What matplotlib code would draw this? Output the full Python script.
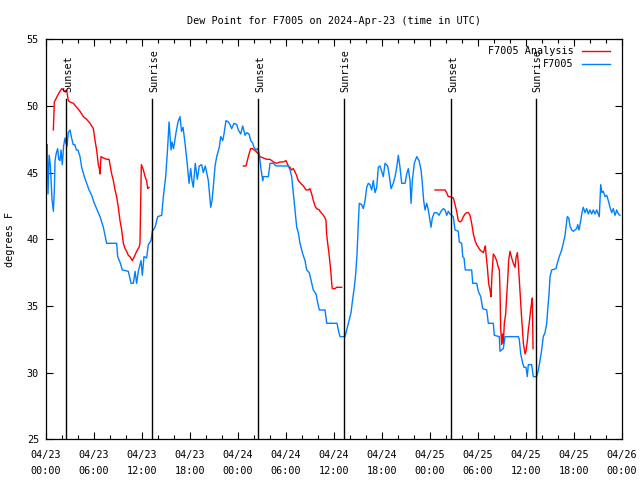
from datetime import datetime, timedelta

import matplotlib
matplotlib.use("Agg")
import matplotlib.pyplot as plt
import matplotlib.dates as mdates

start = datetime(2024, 4, 23)

# F7005 observations: hours since 2024-04-23 00:00 UTC, dew point (F)
obs_hours = [
    0.05, 0.15, 0.25, 0.4, 0.55, 0.75, 0.92, 1.05, 1.13, 1.3, 1.46, 1.6, 1.75, 1.88,
    2.04, 2.2, 2.38, 2.5, 2.63, 2.79, 3.0, 3.2, 3.4, 3.6, 3.8, 4.0, 4.25, 4.46, 4.79,
    5.08, 5.38, 5.71, 6.04, 6.33, 6.75, 7.17, 7.58, 8.0, 8.83, 8.96, 9.3, 9.54, 10.29,
    10.63, 10.92, 11.13, 11.33, 11.54, 11.88, 12.04, 12.25, 12.58, 12.79, 13.13, 13.29,
    13.63, 13.96, 14.46, 14.67, 14.96, 15.21, 15.38, 15.63, 15.75, 15.94, 16.13, 16.25,
    16.5, 16.75, 16.94, 17.13, 17.38, 17.63, 17.88, 18.09, 18.25, 18.41, 18.66, 18.91,
    19.16, 19.46, 19.66, 19.91, 20.09, 20.29, 20.41, 20.59, 20.75, 20.91, 21.13, 21.34,
    21.66, 21.84, 22.09, 22.25, 22.5, 22.79, 23.0, 23.21, 23.5, 23.84, 24.04, 24.34,
    24.59, 24.88, 25.09, 25.38, 25.59, 25.84, 26.0, 26.25, 26.46, 26.66, 26.84, 27.09,
    27.16, 27.79, 28.0, 28.41, 28.75, 29.25, 29.88, 30.29, 30.5, 30.71, 30.91, 31.13,
    31.34, 31.54, 31.75, 32.09, 32.38, 32.59, 32.91, 33.21, 33.41, 33.75, 33.91, 34.16,
    34.88, 35.09, 36.38, 36.54, 36.75, 37.38, 37.59, 37.79, 38.13, 38.29, 38.54, 38.71,
    38.88, 39.04, 39.16, 39.46, 39.66, 39.88, 40.09, 40.29, 40.5, 40.71, 40.91, 41.13,
    41.34, 41.54, 41.75, 41.96, 42.16, 42.38, 42.71, 42.88, 43.13, 43.41, 43.63, 43.84,
    44.04, 44.25, 44.46, 44.88, 45.09, 45.29, 45.5, 45.63, 45.79, 46.04, 46.34, 46.63,
    46.88, 47.04, 47.21, 47.38, 47.59, 47.79, 48.0, 48.13, 48.29, 48.54, 48.84, 49.13,
    49.38, 49.66, 49.88, 50.09, 50.29, 50.5, 50.71, 50.91, 51.13, 51.54, 51.66, 51.96,
    52.09, 52.25, 52.41, 53.21, 53.34, 53.84, 54.04, 54.34, 54.59, 55.09, 55.29, 55.91,
    56.04, 56.66, 56.75, 56.96, 57.16, 57.38, 59.04, 59.16, 59.34, 59.59, 59.75, 60.0,
    60.16, 60.29, 60.71, 60.91, 61.34, 61.54, 61.75, 61.96, 62.16, 62.38, 62.59, 62.71,
    62.88, 63.0, 63.21, 63.75, 63.91, 64.16, 64.46, 64.66, 64.88, 65.0, 65.16, 65.34,
    65.5, 65.71, 65.91, 66.13, 66.34, 66.46, 66.63, 66.84, 67.0, 67.16, 67.38, 67.59,
    67.79, 68.0, 68.21, 68.41, 68.63, 68.84, 69.04, 69.16, 69.34, 69.5, 69.66, 69.88,
    70.09, 70.29, 70.5, 70.71, 70.91, 71.13, 71.34, 71.54, 71.75,
]
obs_dewpt = [
    44.5, 47.1, 43.4, 46.3, 45.5, 43.0, 42.1, 43.8, 45.9, 46.5, 46.8, 46.0, 45.9, 46.7,
    45.6, 47.0, 47.6, 47.2, 47.0, 48.0, 48.2, 47.6, 47.1, 47.1, 46.7, 46.7, 46.2, 45.4, 44.7,
    44.2, 43.7, 43.3, 42.7, 42.3, 41.7, 40.9, 39.7, 39.7, 39.7, 38.7, 38.2, 37.7, 37.6,
    36.7, 36.7, 37.6, 36.7, 37.6, 38.4, 37.3, 38.7, 38.6, 39.6, 39.9, 40.6,
    40.9, 41.7, 41.8, 43.2, 44.7, 46.9, 48.8, 46.7, 47.3, 46.8, 47.5, 48.0,
    48.8, 49.2, 48.1, 48.4, 47.2, 45.8, 44.2, 45.3, 44.4, 43.9, 45.7, 44.5,
    45.5, 45.6, 45.0, 45.5, 45.0, 44.4, 43.6, 42.4, 42.9, 43.9, 45.5, 46.2,
    46.9, 47.7, 47.4, 47.9, 48.9, 48.8, 48.6, 48.3, 48.7, 48.6, 48.2, 47.9,
    48.5, 47.8, 48.0, 47.9, 47.4, 47.2, 46.9, 46.7, 46.8, 46.4, 45.4, 44.4,
    44.7, 44.7, 45.7, 45.7, 45.5, 45.5, 45.5, 45.5, 45.2, 44.7, 43.5, 42.2,
    40.9, 40.5, 39.7, 38.9, 38.4, 37.7, 37.5, 36.7, 36.2, 35.9, 35.4, 34.7,
    34.7, 33.7, 33.7, 33.2, 32.7, 32.7, 33.2, 33.7, 34.5, 35.3, 36.4, 37.4,
    38.9, 41.2, 42.7, 42.6, 42.3, 42.9, 43.9, 44.2, 44.1, 43.7, 44.4, 43.5,
    43.9, 45.4, 45.5, 45.1, 44.7, 45.7, 45.5, 44.9, 43.8, 44.2, 44.7, 45.4,
    46.3, 45.4, 44.2, 44.2, 44.9, 45.3, 44.4, 42.7, 44.4, 45.7, 46.2, 45.9,
    45.2, 44.2, 42.9, 42.2, 42.7, 42.2, 41.4, 40.9, 41.6, 42.0, 42.0, 41.8,
    42.1, 42.3, 42.2, 41.8, 42.1, 41.9, 41.8, 41.7, 40.7, 40.6, 39.8, 39.7,
    38.7, 38.6, 37.7, 37.7, 36.7, 36.7, 36.1, 35.7, 34.8, 34.7, 33.7, 33.7,
    32.8, 32.7, 31.6, 31.7, 31.8, 32.7, 32.7, 32.5, 31.4, 30.7, 30.4, 30.4,
    29.7, 30.6, 30.6, 29.7, 29.7, 30.2, 30.9, 31.7, 32.7, 33.0, 33.7, 34.7,
    35.9, 37.2, 37.7, 37.8, 38.2, 38.7, 39.2, 39.7, 40.3, 40.9, 41.7, 41.6,
    41.0, 40.7, 40.6, 40.7, 40.8, 41.1, 40.7, 41.4, 42.0, 42.4, 42.0, 42.3,
    41.9, 42.2, 41.9, 42.2, 41.9, 42.2, 41.9, 41.7, 44.1, 43.5, 43.6, 43.2,
    43.3, 42.9, 42.4, 42.0, 42.3, 41.8, 42.2, 41.9, 41.8,
]

# F7005 Analysis, three separate runs
ana1_hours = [
    0.92, 1.04, 1.21, 1.46, 1.75, 1.96, 2.17, 2.38, 2.58, 2.79, 3.0, 3.42, 3.83, 4.25,
    4.67, 5.08, 5.5, 5.92, 6.13, 6.33, 6.54, 6.67, 6.75, 6.88, 7.17, 7.58, 7.88, 8.0,
    8.21, 8.42, 8.63, 8.83, 9.04, 9.25, 9.46, 9.67, 9.88, 10.08, 10.29, 10.5, 10.79,
    11.04, 11.33, 11.63, 11.75, 11.83, 11.92, 12.17, 12.38, 12.58, 12.71, 12.88,
]
ana1_dewpt = [
    48.2, 50.3, 50.5, 50.8, 51.1, 51.3, 51.2, 51.1, 51.2, 50.4, 50.3, 50.2, 49.9, 49.6,
    49.2, 49.0, 48.7, 48.3, 47.4, 46.7, 45.6, 45.3, 44.9, 46.2, 46.1, 46.0, 46.0, 45.6,
    44.9, 44.4, 43.7, 43.2, 42.4, 41.4, 40.7, 39.7, 39.3, 39.1, 38.8, 38.7, 38.4,
    38.7, 39.1, 39.4, 39.7, 42.7, 45.6, 45.2, 44.7, 44.4, 43.8, 43.9,
]
ana2_hours = [
    24.67, 25.0, 25.29, 25.58, 25.83, 26.0, 26.25, 26.54, 26.75, 27.17, 27.58, 28.0,
    28.42, 28.83, 29.25, 29.67, 30.0, 30.29, 30.5, 30.71, 30.92, 31.25, 31.54, 31.83,
    32.17, 32.5, 32.79, 33.0, 33.21, 33.42, 33.63, 33.83, 34.17, 34.25, 34.67, 34.88,
    35.0, 35.08, 35.21, 35.38, 35.5, 35.63, 35.71, 35.79, 36.13, 36.33, 36.96,
]
ana2_dewpt = [
    45.5, 45.5, 46.2, 46.8, 46.8, 46.7, 46.6, 46.4, 46.2, 46.1, 46.0, 46.0,
    45.8, 45.7, 45.8, 45.8, 45.9, 45.5, 45.4, 45.2, 45.3, 44.9, 44.4, 44.2,
    44.0, 43.7, 43.7, 43.8, 43.4, 42.9, 42.5, 42.3, 42.2, 42.1, 41.8, 41.6,
    41.4, 40.4, 39.7, 38.9, 38.2, 37.4, 36.7, 36.3, 36.3, 36.4, 36.4,
]
ana3_hours = [
    48.63, 49.88, 50.08, 50.29, 50.5, 50.92, 51.13, 51.33, 51.54, 51.75, 51.96, 52.17,
    52.38, 52.58, 52.79, 53.0, 53.21, 53.42, 53.63, 53.83, 54.04, 54.25, 54.46, 54.67,
    54.79, 54.92, 55.0, 55.17, 55.33, 55.5, 55.63, 55.75, 55.92, 56.13, 56.33, 56.54,
    56.67, 56.75, 56.83, 56.96, 57.08, 57.17, 57.29, 57.46, 57.58, 57.71, 57.83, 58.0,
    58.21, 58.42, 58.63, 58.75, 58.92, 59.04, 59.17, 59.29, 59.42, 59.54, 59.67, 59.88,
    60.0, 60.17, 60.29, 60.42, 60.58, 60.71, 60.79, 60.88,
]
ana3_dewpt = [
    43.7, 43.7, 43.5, 43.2, 43.2, 43.1, 42.6, 42.1, 41.4, 41.3, 41.4, 41.7,
    41.9, 42.0, 42.0, 41.8, 41.2, 40.4, 39.9, 39.6, 39.4, 39.2, 39.1, 39.0,
    39.2, 39.5, 38.9, 37.9, 36.7, 36.2, 35.7, 37.4, 38.9, 38.7, 38.4, 37.9,
    37.7, 36.2, 33.4, 32.1, 32.9, 32.2, 33.7, 34.4, 35.7, 36.9, 38.4, 39.1,
    38.6, 38.2, 37.9, 38.6, 39.0, 38.2, 36.9, 35.7, 34.4, 33.4, 32.2, 31.4,
    31.6, 32.4, 33.2, 33.8, 34.7, 35.3, 35.6, 31.8,
]

sun_events = ["Sunset", "Sunrise", "Sunset", "Sunrise", "Sunset", "Sunrise"]
sun_hours = [2.5, 13.25, 26.5, 37.2, 50.6, 61.2]


def to_time(hours):
    return [start + timedelta(hours=h) for h in hours]


plt.rcParams["font.family"] = "DejaVu Sans Mono"
plt.rcParams["font.size"] = 7.3

fig = plt.figure(figsize=(6.4, 4.8), dpi=100)
ax = fig.add_axes([46 / 640, 1 - 439.3 / 480, 576 / 640, 400 / 480])

red = "#ff0000"
blue = "#0080ff"
ax.plot(to_time(ana1_hours), ana1_dewpt, color=red, lw=1.0, label="F7005 Analysis")
ax.plot(to_time(ana2_hours), ana2_dewpt, color=red, lw=1.0)
ax.plot(to_time(ana3_hours), ana3_dewpt, color=red, lw=1.0)
ax.plot(to_time(obs_hours), obs_dewpt, color=blue, lw=1.0, label="F7005")

for name, h in zip(sun_events, sun_hours):
    t = start + timedelta(hours=h)
    ax.axvline(t, ymin=0, ymax=0.851, color="black", lw=1.0)
    ax.annotate(name, xy=(t, 0.868), xycoords=("data", "axes fraction"),
                xytext=(1.5, 0), textcoords="offset points",
                rotation=90, ha="center", va="bottom")

ax.set_xlim(start, start + timedelta(days=3))
ax.set_ylim(25, 55)
ax.set_yticks(range(25, 56, 5))
ax.xaxis.set_major_locator(mdates.HourLocator(byhour=[0, 6, 12, 18]))
ax.xaxis.set_minor_locator(mdates.HourLocator(byhour=range(0, 24, 2)))
ax.xaxis.set_major_formatter(mdates.DateFormatter("%m/%d\n%H:%M"))

ax.tick_params(which="both", direction="in", top=True, right=True, width=0.8)
ax.tick_params(which="major", length=5)
ax.tick_params(which="minor", length=3)
ax.tick_params(axis="x", pad=7.5)
ax.tick_params(axis="y", pad=5)
for s in ax.spines.values():
    s.set_linewidth(0.9)

ax.set_title("Dew Point for F7005 on 2024-Apr-23 (time in UTC)", pad=11,
             fontsize=7.3)
ax.set_ylabel("degrees F")
ax.yaxis.set_label_coords(-0.054, 0.5)

ax.legend(loc="upper right", bbox_to_anchor=(0.979, 0.983), frameon=False,
          markerfirst=False, handlelength=2.8, handletextpad=0.8,
          labelspacing=0.3, borderaxespad=0, borderpad=0)

fig.canvas.draw()
for lbl in ax.get_xticklabels():
    lbl.set_linespacing(1.75)

fig.savefig("out.png", dpi=100)
